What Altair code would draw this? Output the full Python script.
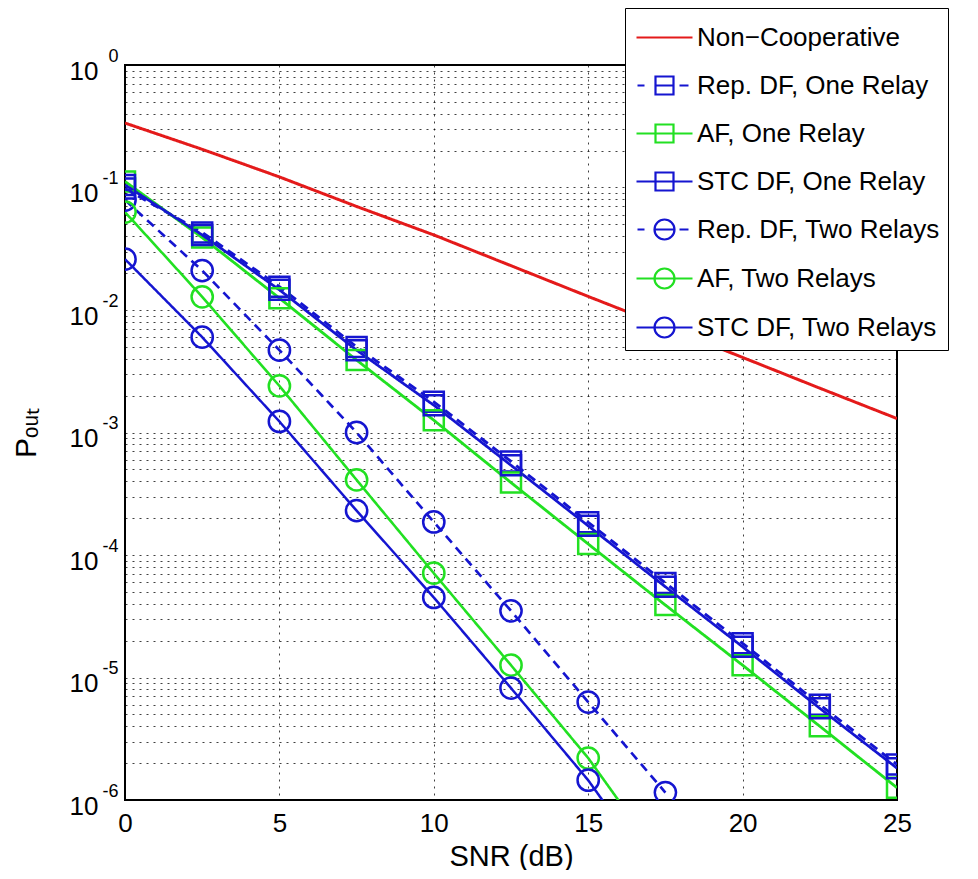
import altair as alt
import pandas as pd

FONT = "Liberation Sans"

# ---------------- data ----------------
snr = [0, 2.5, 5, 7.5, 10, 12.5, 15, 17.5, 20, 22.5, 25]
snr_two = [0, 2.5, 5, 7.5, 10, 12.5, 15, 17.5]

non_coop = [0.336, 0.205, 0.122, 0.070, 0.041, 0.023, 0.0129, 0.0073, 0.0041, 0.0023, 0.0013]
rep_df_one = [0.098, 0.043, 0.0155, 0.0050, 0.00178, 5.8e-4, 1.85e-4, 5.9e-5, 1.9e-5, 6.0e-6, 1.95e-6]
af_one = [0.112, 0.039, 0.0125, 0.0039, 0.00126, 3.9e-4, 1.23e-4, 3.9e-5, 1.26e-5, 4.0e-6, 1.26e-6]
stc_df_one = [0.105, 0.041, 0.0146, 0.0047, 0.00167, 5.4e-4, 1.73e-4, 5.5e-5, 1.78e-5, 5.6e-6, 1.82e-6]
rep_df_two = [0.079, 0.021, 0.0047, 1.0e-3, 1.86e-4, 3.5e-5, 6.3e-6, 1.15e-6]
af_two = [0.063, 0.0128, 0.0024, 4.1e-4, 7.1e-5, 1.26e-5, 2.2e-6, 2.9e-7]
stc_df_two = [0.026, 0.006, 0.00123, 2.3e-4, 4.5e-5, 8.2e-6, 1.45e-6, 1.9e-7]

series_names = [
    "Non\u2212Cooperative",
    "Rep. DF, One Relay",
    "AF, One Relay",
    "STC DF, One Relay",
    "Rep. DF, Two Relays",
    "AF, Two Relays",
    "STC DF, Two Relays",
]
one_relay = series_names[1:4]
two_relays = series_names[4:7]

series_colors = ["#e41a1a", "#1515d0", "#22e022", "#1515d0", "#1515d0", "#22e022", "#1515d0"]
series_dash = [[1, 0], [9, 6], [1, 0], [1, 0], [9, 6], [1, 0], [1, 0]]
series_width = [3, 2.5, 2.5, 2.5, 2.5, 2.5, 2.5]

x_ticks = [0, 5, 10, 15, 20, 25]
decades = [1, 1e-1, 1e-2, 1e-3, 1e-4, 1e-5, 1e-6]
minor_ticks = [m * 10.0 ** e for e in range(-6, 0) for m in range(1, 10)] + [1.0]

# legend glyphs (line + marker), unit box scaled by symbol size
LINE = "M-0.9,0H1.9"
DASH = "M-0.85,0H-0.5M0.05,0H0.95M1.25,0H1.7"
SQ = "M0.05,-0.45H0.95V0.45H0.05Z"
CI = "M1.0,0A0.5,0.5,0,1,1,0,0A0.5,0.5,0,1,1,1.0,0Z"
legend_paths = [LINE, DASH + SQ, LINE + SQ, LINE + SQ, DASH + CI, LINE + CI, LINE + CI]

rows = []
for name, xs, ys in [
    (series_names[0], snr, non_coop),
    (series_names[1], snr, rep_df_one),
    (series_names[2], snr, af_one),
    (series_names[3], snr, stc_df_one),
    (series_names[4], snr_two, rep_df_two),
    (series_names[5], snr_two, af_two),
    (series_names[6], snr_two, stc_df_two),
]:
    for xv, yv in zip(xs, ys):
        rows.append({"series": name, "snr": xv, "p": yv})
df = pd.DataFrame(rows)

# ---------------- scales / axes ----------------
xscale = alt.Scale(domain=[0, 25], nice=False)
yscale = alt.Scale(type="log", domain=[1e-6, 1], nice=False)

grid_style = dict(grid=True, gridDash=[2, 5], gridColor="#000000", gridOpacity=0.75, gridWidth=1)

x_axis = alt.Axis(
    values=x_ticks, title="SNR (dB)", labelFontSize=26, titleFontSize=29,
    titleFontWeight="normal", labelFont=FONT, titleFont=FONT,
    labelColor="black", titleColor="black", labelFlush=False,
    domain=False, ticks=False, tickSize=0, labelPadding=10, titlePadding=6,
    **grid_style,
)

y_axis_base = alt.Axis(
    orient="left", values=minor_ticks,
    labelExpr="abs(log(datum.value)/LN10 - round(log(datum.value)/LN10)) < 0.001 ? '10' : ''",
    labelFontSize=26, labelFont=FONT, labelColor="black", labelPadding=27,
    labelOffset=6, labelOverlap=False, labelFlush=False,
    domain=False, ticks=False, tickSize=0,
    title="P\u2092\u1d64\u209c", titleFontSize=30, titleFontWeight="normal",
    titleFont=FONT, titleColor="black", titlePadding=28,
    **grid_style,
)

y_axis_exp = alt.Axis(
    orient="left", values=decades,
    labelExpr="datum.value >= 1 ? '0' : '-' + round(-log(datum.value)/LN10)",
    labelFontSize=18, labelFont=FONT, labelColor="black", labelPadding=7,
    labelOffset=-9, labelOverlap=False, labelFlush=False,
    domain=False, ticks=False, tickSize=0, grid=False, title=None,
)

legend = alt.Legend(
    orient="none", legendX=500, legendY=-57, title=None,
    fillColor="white", strokeColor="black", padding=8,
    symbolSize=1600, symbolStrokeWidth=2.2, symbolFillColor="transparent",
    labelFontSize=26, labelFont=FONT, labelColor="black",
    labelOffset=21, rowPadding=13, labelLimit=400,
)

X = alt.X("snr:Q", scale=xscale, axis=x_axis)
C = alt.Color("series:N", scale=alt.Scale(domain=series_names, range=series_colors), legend=None)

lines = alt.Chart(df).mark_line(clip=True).encode(
    x=X,
    y=alt.Y("p:Q", scale=yscale, axis=y_axis_base),
    color=C,
    strokeDash=alt.StrokeDash("series:N", scale=alt.Scale(domain=series_names, range=series_dash), legend=None),
    strokeWidth=alt.StrokeWidth("series:N", scale=alt.Scale(domain=series_names, range=series_width), legend=None),
)

squares = alt.Chart(df).transform_filter(
    alt.FieldOneOfPredicate(field="series", oneOf=one_relay)
).mark_point(shape="square", size=400, filled=False, strokeWidth=2.5, opacity=1, clip=True).encode(
    x=X, y=alt.Y("p:Q", scale=yscale, axis=y_axis_base), color=C
)

circles = alt.Chart(df).transform_filter(
    alt.FieldOneOfPredicate(field="series", oneOf=two_relays)
).mark_point(shape="circle", size=452, filled=False, strokeWidth=2.5, opacity=1, clip=True).encode(
    x=X, y=alt.Y("p:Q", scale=yscale, axis=y_axis_base), color=C
)

main = alt.layer(lines, squares, circles)

legend_layer = alt.Chart(df).transform_filter("false").mark_point(
    filled=False, opacity=1, strokeWidth=2.2, clip=True
).encode(
    x=X,
    y=alt.Y("p:Q", scale=yscale, axis=y_axis_exp),
    color=alt.Color("series:N", scale=alt.Scale(domain=series_names, range=series_colors), legend=legend),
    shape=alt.Shape("series:N", scale=alt.Scale(domain=series_names, range=legend_paths), legend=legend),
)

chart = alt.layer(main, legend_layer).resolve_axis(y="independent").resolve_scale(
    color="independent", shape="independent"
).resolve_legend(color="independent").properties(
    width=772, height=735,
    padding={"left": 117, "top": 57, "right": 70, "bottom": 70},
    autosize=alt.AutoSizeParams(type="none"),
    background="white",
).configure_view(stroke="black", strokeWidth=2)

chart.save("out.html", embed_options={"renderer": "svg", "actions": False})
